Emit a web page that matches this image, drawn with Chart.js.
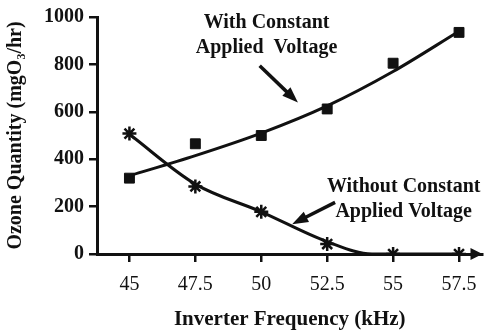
<!DOCTYPE html>
<html>
<head>
<meta charset="utf-8">
<script src="https://cdn.jsdelivr.net/npm/chart.js@4.4.0/dist/chart.umd.min.js"></script>
<style>
  html, body { margin: 0; padding: 0; background: #fff; }
  #wrap { width: 492px; height: 332px; }
</style>
</head>
<body>
<div id="wrap"><canvas id="ozoneChart" width="492" height="332"></canvas></div>
<script>
    // measured points
    const freqs = [45, 47.5, 50, 52.5, 55, 57.5];
    const withVoltage = [320, 465, 500, 612, 805, 935];
    const withoutVoltage = [508, 285, 178, 42, 0, 0];

    // fitted curves
    const fitWithX = [45, 47.5, 50, 52.5, 55, 57.5];
    const fitWithY = [330, 415, 510, 625, 770, 940];
    const fitWithoutX = [45, 47.5, 50, 52.5, 54.2, 55, 57.5];
    const fitWithoutY = [505, 295, 178, 52, 0, 0, 0];

    const xTicks = [45, 47.5, 50, 52.5, 55, 57.5];
    const xTickLabels = ['45', '47.5', '50', '52.5', '55', '57.5'];

    const serif = "'Liberation Serif', 'Times New Roman', serif";

    function toPoints(xs, ys) {
        return xs.map((x, i) => ({ x: x, y: ys[i] }));
    }

    // text labels and arrows, placed in data units
    const notes = [
        { lines: ['With Constant', 'Applied  Voltage'], x: 50.2, y: [975, 870], tail: [49.94, 794], head: [51.39, 639] },
        { lines: ['Without Constant', 'Applied Voltage'], x: 55.4, y: [282, 176], tail: [52.8, 218], head: [51.17, 126] }
    ];

    function arrow(ctx, x1, y1, x2, y2, size, width) {
        const ang = Math.atan2(y2 - y1, x2 - x1);
        ctx.beginPath();
        ctx.moveTo(x1, y1);
        ctx.lineTo(x2 - Math.cos(ang) * size * 0.8, y2 - Math.sin(ang) * size * 0.8);
        ctx.lineWidth = width;
        ctx.stroke();
        ctx.beginPath();
        ctx.moveTo(x2, y2);
        ctx.lineTo(x2 - size * Math.cos(ang - 0.35), y2 - size * Math.sin(ang - 0.35));
        ctx.lineTo(x2 - size * Math.cos(ang + 0.35), y2 - size * Math.sin(ang + 0.35));
        ctx.closePath();
        ctx.fill();
    }

    const notesPlugin = {
        id: 'notes',
        afterDraw(chart) {
            const ctx = chart.ctx;
            const xs = chart.scales.x, ys = chart.scales.y;
            ctx.save();
            ctx.fillStyle = '#111';
            ctx.strokeStyle = '#111';
            ctx.font = "bold 20px " + serif;
            ctx.textAlign = 'center';
            ctx.textBaseline = 'middle';
            notes.forEach(n => {
                n.lines.forEach((t, i) => {
                    ctx.fillText(t, xs.getPixelForValue(n.x), ys.getPixelForValue(n.y[i]));
                });
                arrow(ctx,
                    xs.getPixelForValue(n.tail[0]), ys.getPixelForValue(n.tail[1]),
                    xs.getPixelForValue(n.head[0]), ys.getPixelForValue(n.head[1]), 17, 3.5);
            });
            // arrow head at the end of the x axis
            const y0 = ys.getPixelForValue(0);
            const xe = chart.chartArea.right;
            ctx.beginPath();
            ctx.moveTo(xe, y0);
            ctx.lineTo(xe - 12, y0 - 6);
            ctx.lineTo(xe - 12, y0 + 6);
            ctx.closePath();
            ctx.fill();
            ctx.restore();
        }
    };

    const ctx = document.getElementById('ozoneChart').getContext('2d');
    new Chart(ctx, {
        type: 'scatter',
        data: {
            datasets: [{
                label: 'With fit',
                data: toPoints(fitWithX, fitWithY),
                showLine: true,
                borderColor: '#111',
                borderWidth: 3,
                pointRadius: 0,
                cubicInterpolationMode: 'monotone',
                fill: false
            }, {
                label: 'Without fit',
                data: toPoints(fitWithoutX, fitWithoutY),
                showLine: true,
                borderColor: '#111',
                borderWidth: 3,
                pointRadius: 0,
                cubicInterpolationMode: 'monotone',
                fill: false
            }, {
                label: 'With Constant Applied Voltage',
                data: toPoints(freqs, withVoltage),
                pointStyle: 'rect',
                pointRadius: 7,
                backgroundColor: '#111',
                borderColor: '#111',
                borderWidth: 1
            }, {
                label: 'Without Constant Applied Voltage',
                data: toPoints(freqs, withoutVoltage),
                pointStyle: 'star',
                pointRadius: 7,
                backgroundColor: '#111',
                borderColor: '#111',
                borderWidth: 2.5
            }]
        },
        options: {
            responsive: false,
            animation: false,
            layout: { padding: { left: 0, top: 16, right: 2, bottom: 0 } },
            plugins: {
                legend: { display: false },
                tooltip: { enabled: false }
            },
            scales: {
                x: {
                    type: 'linear',
                    min: 43.77,
                    max: 58.39,
                    afterBuildTicks: (scale) => {
                        scale.ticks = xTicks.map(v => ({ value: v }));
                    },
                    afterFit: (scale) => { scale.height = 78; },
                    grid: { drawOnChartArea: false, drawTicks: true, tickLength: 8, color: '#111', lineWidth: 2.5 },
                    border: { display: true, color: '#111', width: 3 },
                    ticks: {
                        color: '#111',
                        padding: 11,
                        maxRotation: 0,
                        font: { family: serif, size: 20 },
                        callback: (v) => xTickLabels[xTicks.indexOf(v)]
                    },
                    title: {
                        display: true,
                        text: 'Inverter Frequency (kHz)',
                        color: '#111',
                        padding: { top: 0, bottom: 0 },
                        font: { family: serif, size: 21, weight: 'bold' }
                    }
                },
                y: {
                    min: 0,
                    max: 1000,
                    afterFit: (scale) => { scale.width = 97; },
                    grid: { drawOnChartArea: false, drawTicks: true, tickLength: 8, color: '#111', lineWidth: 2.5 },
                    border: { display: true, color: '#111', width: 3 },
                    ticks: {
                        stepSize: 200,
                        color: '#111',
                        padding: 5,
                        font: { family: serif, size: 20, weight: 'bold' },
                        callback: (v) => String(v)
                    },
                    title: {
                        display: true,
                        text: 'Ozone Quantity (mgO₃/hr)',
                        color: '#111',
                        padding: { top: 4, bottom: 0 },
                        font: { family: serif, size: 20, weight: 'bold' }
                    }
                }
            }
        },
        plugins: [notesPlugin]
    });
</script>
</body>
</html>
